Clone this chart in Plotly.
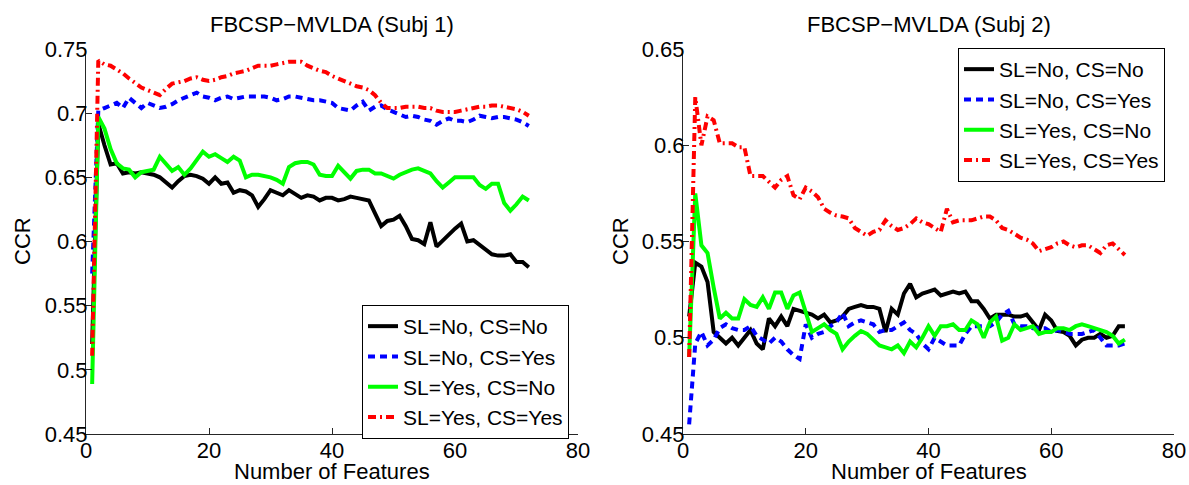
import plotly.graph_objects as go

features = list(range(1, 73))

# Subject 1
s1_no_no = [0.52, 0.692, 0.675, 0.660, 0.661, 0.653, 0.654, 0.653, 0.654, 0.653,
            0.652, 0.650, 0.646, 0.642, 0.647, 0.651, 0.652, 0.651, 0.649, 0.645,
            0.650, 0.645, 0.646, 0.638, 0.640, 0.639, 0.636, 0.627, 0.633, 0.640,
            0.638, 0.636, 0.640, 0.637, 0.634, 0.636, 0.635, 0.632, 0.634, 0.634,
            0.632, 0.633, 0.635, 0.634, 0.633, 0.632, 0.622, 0.612, 0.616, 0.617,
            0.620, 0.612, 0.602, 0.601, 0.598, 0.615, 0.596, 0.601, 0.606, 0.610,
            0.614, 0.600, 0.601, 0.597, 0.594, 0.590, 0.589, 0.589, 0.590, 0.584,
            0.584, 0.580]
s1_no_yes = [0.575, 0.702, 0.704, 0.706, 0.708, 0.704, 0.712, 0.708, 0.704, 0.708,
             0.706, 0.704, 0.705, 0.707, 0.710, 0.712, 0.714, 0.716, 0.713, 0.712,
             0.710, 0.712, 0.713, 0.711, 0.712, 0.713, 0.713, 0.713, 0.713, 0.712,
             0.710, 0.711, 0.713, 0.713, 0.712, 0.711, 0.710, 0.710, 0.709, 0.708,
             0.704, 0.703, 0.702, 0.706, 0.709, 0.702, 0.705, 0.706, 0.703, 0.701,
             0.699, 0.697, 0.698, 0.697, 0.695, 0.694, 0.691, 0.694, 0.696, 0.694,
             0.694, 0.693, 0.695, 0.698, 0.697, 0.696, 0.697, 0.697, 0.696, 0.695,
             0.693, 0.690]
s1_yes_no = [0.489, 0.697, 0.688, 0.672, 0.661, 0.657, 0.656, 0.650, 0.654, 0.655,
             0.656, 0.666, 0.660, 0.655, 0.658, 0.652, 0.657, 0.663, 0.670, 0.666,
             0.668, 0.665, 0.662, 0.666, 0.663, 0.650, 0.652, 0.652, 0.651, 0.650,
             0.648, 0.645, 0.658, 0.661, 0.662, 0.662, 0.660, 0.652, 0.651, 0.651,
             0.659, 0.654, 0.649, 0.655, 0.656, 0.656, 0.653, 0.653, 0.651, 0.649,
             0.652, 0.654, 0.656, 0.657, 0.655, 0.653, 0.647, 0.642, 0.646, 0.650,
             0.650, 0.650, 0.650, 0.644, 0.641, 0.645, 0.645, 0.630, 0.624, 0.629,
             0.635, 0.632]
s1_yes_yes = [0.511, 0.741, 0.738, 0.737, 0.734, 0.731, 0.727, 0.723, 0.720, 0.718,
              0.716, 0.714, 0.719, 0.723, 0.724, 0.725, 0.727, 0.728, 0.726, 0.725,
              0.726, 0.728, 0.729, 0.731, 0.732, 0.733, 0.735, 0.737, 0.737, 0.737,
              0.738, 0.739, 0.740, 0.740, 0.740, 0.737, 0.735, 0.733, 0.732, 0.729,
              0.727, 0.725, 0.723, 0.721, 0.720, 0.718, 0.714, 0.708, 0.704, 0.704,
              0.704, 0.705, 0.705, 0.705, 0.704, 0.704, 0.702, 0.701, 0.701, 0.701,
              0.702, 0.703, 0.704, 0.705, 0.705, 0.706, 0.706, 0.705, 0.704, 0.703,
              0.701, 0.698]

# Subject 2
s2_no_no = [0.511, 0.539, 0.537, 0.529, 0.503, 0.500, 0.497, 0.500, 0.496, 0.500,
            0.504, 0.497, 0.494, 0.510, 0.506, 0.511, 0.506, 0.515, 0.514, 0.513,
            0.512, 0.510, 0.512, 0.508, 0.509, 0.511, 0.515, 0.516, 0.517, 0.516,
            0.516, 0.515, 0.503, 0.515, 0.512, 0.523, 0.528, 0.521, 0.523, 0.524,
            0.525, 0.522, 0.523, 0.524, 0.523, 0.524, 0.519, 0.519, 0.515, 0.510,
            0.512, 0.512, 0.512, 0.511, 0.511, 0.512, 0.508, 0.504, 0.512, 0.509,
            0.5035, 0.503, 0.501, 0.496, 0.499, 0.500, 0.500, 0.502, 0.500, 0.501,
            0.506, 0.506]
s2_no_yes = [0.455, 0.497, 0.503, 0.496, 0.499, 0.505, 0.507, 0.505, 0.504, 0.504,
             0.506, 0.501, 0.499, 0.497, 0.500, 0.498, 0.494, 0.491, 0.489, 0.507,
             0.500, 0.502, 0.503, 0.506, 0.508, 0.513, 0.506, 0.508, 0.509, 0.508,
             0.507, 0.503, 0.504, 0.504, 0.506, 0.508, 0.504, 0.502, 0.497, 0.494,
             0.500, 0.498, 0.496, 0.496, 0.496, 0.502, 0.506, 0.506, 0.506, 0.506,
             0.508, 0.512, 0.514, 0.507, 0.506, 0.506, 0.505, 0.505, 0.505, 0.503,
             0.504, 0.503, 0.502, 0.502, 0.502, 0.503, 0.504, 0.500, 0.496, 0.496,
             0.496, 0.497]
s2_yes_no = [0.490, 0.575, 0.548, 0.544, 0.526, 0.510, 0.513, 0.510, 0.510, 0.520,
             0.517, 0.516, 0.521, 0.515, 0.5235, 0.5235, 0.515, 0.522, 0.5235, 0.513,
             0.503, 0.505, 0.507, 0.504, 0.502, 0.494, 0.498, 0.501, 0.5035, 0.502,
             0.499, 0.496, 0.495, 0.494, 0.496, 0.492, 0.498, 0.495, 0.500, 0.506,
             0.501, 0.506, 0.506, 0.507, 0.504, 0.504, 0.509, 0.507, 0.500, 0.508,
             0.511, 0.4985, 0.500, 0.507, 0.504, 0.505, 0.506, 0.502, 0.503, 0.503,
             0.505, 0.505, 0.504, 0.506, 0.507, 0.506, 0.505, 0.504, 0.503, 0.501,
             0.497, 0.499]
s2_yes_yes = [0.490, 0.625, 0.600, 0.615, 0.613, 0.601, 0.601, 0.601, 0.599, 0.599,
              0.584, 0.584, 0.584, 0.581, 0.578, 0.582, 0.584, 0.574, 0.572, 0.578,
              0.576, 0.573, 0.567, 0.565, 0.5635, 0.563, 0.562, 0.557, 0.555, 0.553,
              0.555, 0.556, 0.561, 0.558, 0.556, 0.557, 0.559, 0.562, 0.560, 0.559,
              0.557, 0.555, 0.567, 0.560, 0.561, 0.561, 0.561, 0.562, 0.563, 0.563,
              0.561, 0.557, 0.556, 0.554, 0.552, 0.551, 0.549, 0.545, 0.546, 0.547,
              0.549, 0.550, 0.548, 0.547, 0.548, 0.548, 0.546, 0.544, 0.548, 0.549,
              0.546, 0.543]

series_names = ["SL=No, CS=No", "SL=No, CS=Yes", "SL=Yes, CS=No", "SL=Yes, CS=Yes"]
titles = ["FBCSP\u2212MVLDA (Subj 1)", "FBCSP\u2212MVLDA (Subj 2)"]
x_ticks = [0, 20, 40, 60, 80]
y_ticks_1 = [0.45, 0.5, 0.55, 0.6, 0.65, 0.7, 0.75]
y_ticks_2 = [0.45, 0.5, 0.55, 0.6, 0.65]

styles = [
    dict(color="#000000", width=4, dash="solid"),
    dict(color="#0000FF", width=4, dash="7px,5px"),
    dict(color="#00FF00", width=4, dash="solid"),
    dict(color="#FF0000", width=4, dash="8px,4px,2px,4px"),
]

W, H = 1189, 485
FONT = "Liberation Sans, Arial, Helvetica, sans-serif"
FS = 22
LFS = 21

fig = go.Figure()
data1 = [s1_no_no, s1_no_yes, s1_yes_no, s1_yes_yes]
data2 = [s2_no_no, s2_no_yes, s2_yes_no, s2_yes_yes]
for name, ys, st in zip(series_names, data1, styles):
    fig.add_trace(go.Scatter(x=features, y=ys, mode="lines", name=name, line=st,
                             xaxis="x", yaxis="y", legend="legend"))
for name, ys, st in zip(series_names, data2, styles):
    fig.add_trace(go.Scatter(x=features, y=ys, mode="lines", name=name, line=st,
                             xaxis="x2", yaxis="y2", legend="legend2"))

ydom = [1 - 434 / H, 1 - 49 / H]
axis_common = dict(showline=True, linecolor="#262626", linewidth=1, ticks="inside",
                   ticklen=6, tickcolor="#262626", showgrid=False, zeroline=False,
                   mirror=False, automargin=False,
                   tickfont=dict(family=FONT, size=FS, color="#000000"))


def fmt(v):
    return ("%.2f" % v).rstrip("0")


fig.update_layout(
    width=W, height=H,
    margin=dict(l=0, r=0, t=0, b=0),
    paper_bgcolor="white", plot_bgcolor="white",
    font=dict(family=FONT, size=FS, color="#000000"),
    xaxis=dict(domain=[86 / W, 578 / W], range=[0, 80], tickvals=x_ticks,
               anchor="y", ticklabelstandoff=-3, **axis_common),
    yaxis=dict(domain=ydom, range=[0.45, 0.75], tickvals=y_ticks_1,
               ticktext=[fmt(v) for v in y_ticks_1], anchor="x",
               ticklabelstandoff=-7, **axis_common),
    xaxis2=dict(domain=[683 / W, 1174 / W], range=[0, 80], tickvals=x_ticks,
                anchor="y2", ticklabelstandoff=-3, **axis_common),
    yaxis2=dict(domain=ydom, range=[0.45, 0.65], tickvals=y_ticks_2,
                ticktext=[fmt(v) for v in y_ticks_2], anchor="x2",
                ticklabelstandoff=-7, **axis_common),
    legend=dict(x=362 / W, y=1 - 305 / H, xanchor="left", yanchor="top",
                bgcolor="white", bordercolor="#000000", borderwidth=1,
                font=dict(family=FONT, size=LFS), tracegroupgap=0),
    legend2=dict(x=958 / W, y=1 - 48 / H, xanchor="left", yanchor="top",
                 bgcolor="white", bordercolor="#000000", borderwidth=1,
                 font=dict(family=FONT, size=LFS), tracegroupgap=0),
    showlegend=True,
)

annotations = []
for cx, t in zip([(86 + 578) / 2 / W, (683 + 1174) / 2 / W], titles):
    annotations.append(dict(text=t, x=cx, y=1 - 24 / H, xref="paper", yref="paper",
                            xanchor="center", yanchor="middle", showarrow=False,
                            font=dict(family=FONT, size=FS)))
    annotations.append(dict(text="Number of Features", x=cx, y=1 - 471 / H,
                            xref="paper", yref="paper", xanchor="center",
                            yanchor="middle", showarrow=False,
                            font=dict(family=FONT, size=FS)))
for lx in [22 / W, 620 / W]:
    annotations.append(dict(text="CCR", x=lx, y=1 - 241 / H, xref="paper", yref="paper",
                            xanchor="center", yanchor="middle", showarrow=False,
                            textangle=-90, font=dict(family=FONT, size=FS)))
fig.update_layout(annotations=annotations)

fig.write_html("out.html")
